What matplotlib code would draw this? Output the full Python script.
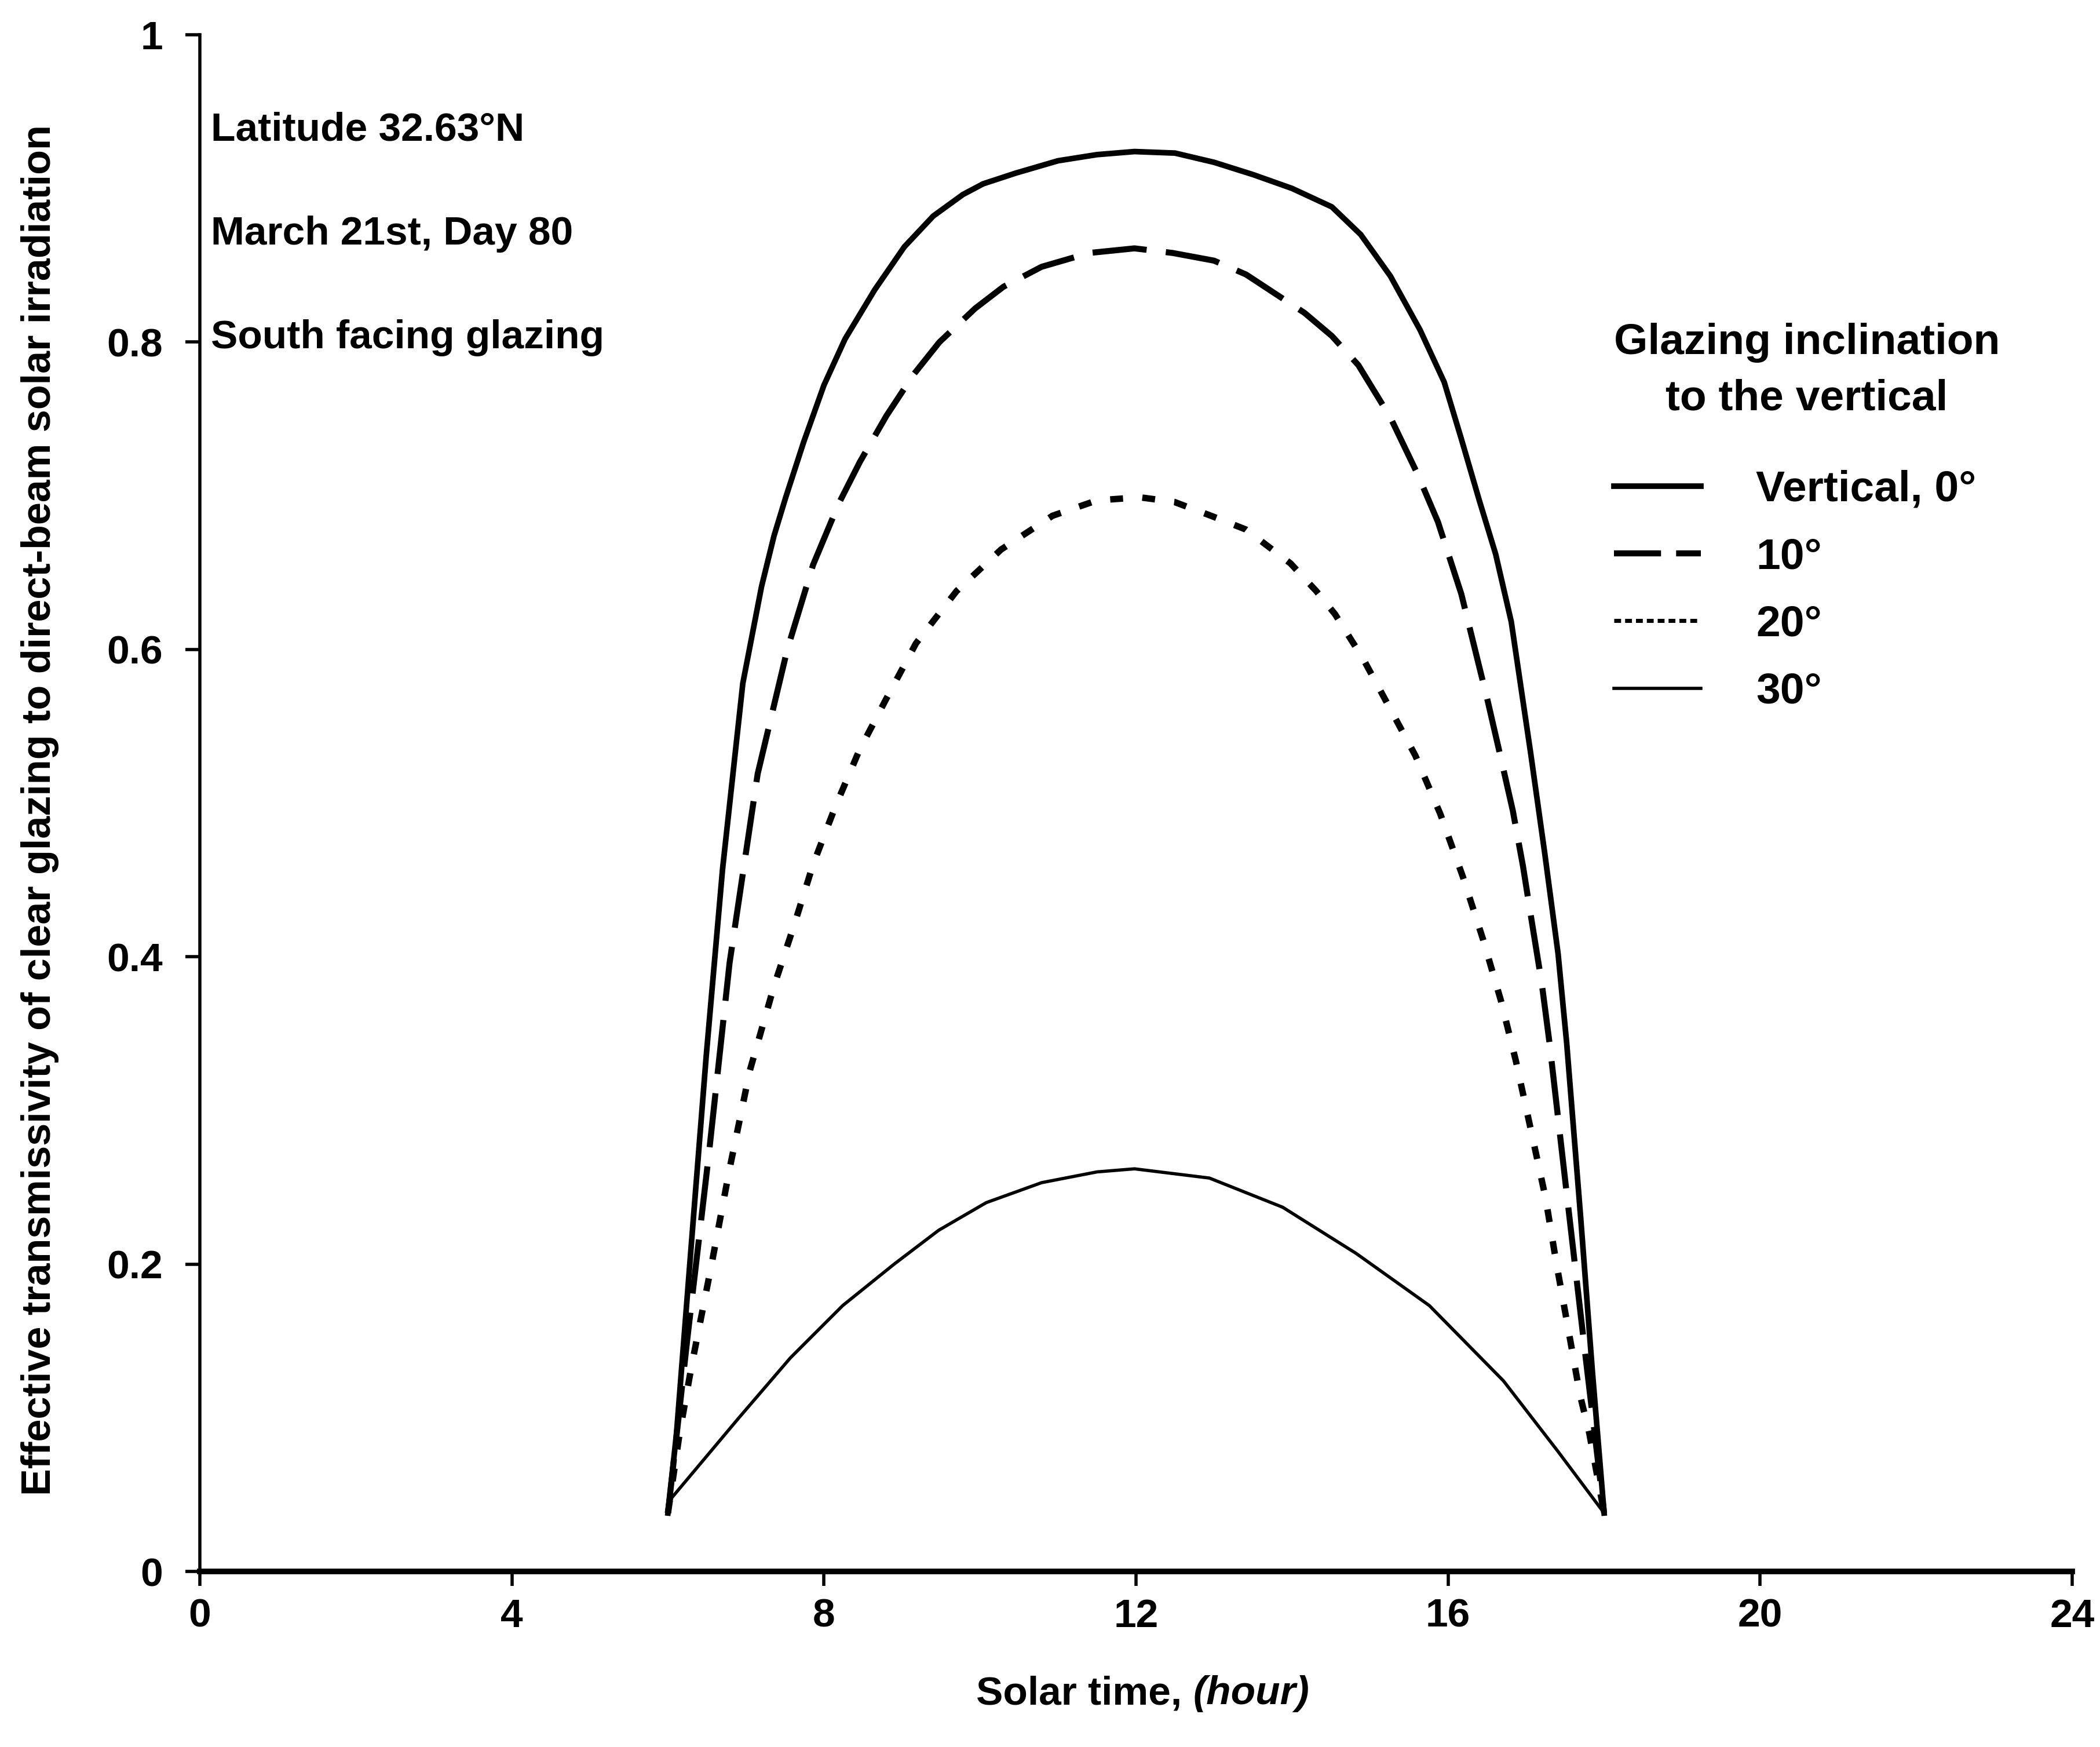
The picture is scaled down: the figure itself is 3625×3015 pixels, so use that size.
import matplotlib
matplotlib.use('Agg')
import matplotlib.pyplot as plt
from matplotlib.lines import Line2D

plt.rcParams['font.family'] = ['Liberation Sans', 'DejaVu Sans']

# solar time (hour) and effective transmissivity
hour_0 = [6.0, 6.11, 6.30, 6.49, 6.70, 6.96, 7.20, 7.36, 7.51, 7.74, 8.0, 8.27, 8.65, 9.03,
          9.40, 9.78, 10.04, 10.46, 11.0, 11.5, 11.98, 12.5, 13.0, 13.5, 14.0, 14.51, 14.88,
          15.26, 15.64, 15.95, 16.17, 16.40, 16.61, 16.81, 17.06, 17.24, 17.41, 17.52,
          17.70, 17.85, 18.0]
tau_0 = [0.038, 0.09, 0.213, 0.335, 0.457, 0.578, 0.641, 0.674, 0.699, 0.735, 0.772, 0.802,
         0.834, 0.862, 0.882, 0.896, 0.903, 0.91, 0.918, 0.922, 0.924, 0.923, 0.917, 0.909,
         0.90, 0.888, 0.870, 0.843, 0.808, 0.774, 0.737, 0.697, 0.662, 0.618, 0.532, 0.467,
         0.402, 0.344, 0.23, 0.13, 0.038]

hour_10 = [6.0, 6.25, 6.53, 6.79, 7.15, 7.53, 7.86, 8.19, 8.46, 8.80, 9.15, 9.48, 9.94, 10.3,
           10.79, 11.4, 11.98, 12.47, 13.0, 13.41, 14.16, 14.51, 14.85, 15.26, 15.61, 15.87,
           16.17, 16.34, 16.51, 16.66, 16.83, 16.96, 17.06, 17.20, 17.30, 17.50, 17.75, 18.0]
tau_10 = [0.038, 0.152, 0.274, 0.396, 0.519, 0.60, 0.655, 0.695, 0.722, 0.752, 0.779, 0.800,
          0.822, 0.836, 0.849, 0.858, 0.861, 0.858, 0.853, 0.844, 0.819, 0.804, 0.785, 0.751,
          0.714, 0.683, 0.636, 0.601, 0.566, 0.533, 0.495, 0.459, 0.427, 0.383, 0.344, 0.255,
          0.145, 0.038]

hour_20 = [6.0, 6.15, 6.30, 6.56, 6.79, 7.05, 7.36, 7.62, 7.86, 8.14, 8.45, 8.80, 9.18, 9.70,
           10.27, 10.93, 11.5, 12.05, 12.49, 12.96, 13.41, 13.98, 14.31, 14.55, 14.91, 15.23,
           15.58, 15.90, 16.19, 16.45, 16.68, 16.87, 17.08, 17.25, 17.39, 17.55, 17.69, 17.81,
           18.0]
tau_20 = [0.038, 0.09, 0.133, 0.20, 0.262, 0.326, 0.381, 0.421, 0.46, 0.497, 0.534, 0.568,
          0.604, 0.638, 0.665, 0.687, 0.697, 0.699, 0.696, 0.687, 0.678, 0.656, 0.638, 0.623,
          0.594, 0.564, 0.531, 0.493, 0.452, 0.411, 0.371, 0.332, 0.283, 0.243, 0.20, 0.155,
          0.115, 0.09, 0.038]

hour_30 = [6.0, 6.05, 6.91, 7.57, 8.24, 8.90, 9.47, 10.08, 10.79, 11.5, 11.98, 12.94, 13.88,
           14.82, 15.76, 16.71, 17.41, 18.0]
tau_30 = [0.038, 0.048, 0.10, 0.139, 0.173, 0.20, 0.222, 0.24, 0.253, 0.26, 0.262, 0.256,
          0.237, 0.207, 0.173, 0.124, 0.078, 0.038]

labels = ['Vertical, 0\u00b0', '10\u00b0', '20\u00b0', '30\u00b0']
x_ticks = [0, 4, 8, 12, 16, 20, 24]
y_ticks = [0, 0.2, 0.4, 0.6, 0.8, 1.0]
y_ticklabels = ['0', '0.2', '0.4', '0.6', '0.8', '1']
notes = ['Latitude 32.63\u00b0N', 'March 21st, Day 80', 'South facing glazing']
note_y = [0.931, 0.8635, 0.796]

W, H = 3625, 3015
fig = plt.figure(figsize=(W / 100, H / 100), dpi=100)
ax = fig.add_axes([345 / W, 1 - 2712 / H, (3577 - 345) / W, (2712 - 60) / H])

ax.plot(hour_0, tau_0, color='black', lw=7, solid_joinstyle='round')
ax.plot(hour_10, tau_10, color='black', lw=7.5, linestyle=(0, (9, 3.2)))
ax.plot(hour_20, tau_20, color='black', lw=8, linestyle=(0, (2.0, 3.0)))
ax.plot(hour_30, tau_30, color='black', lw=4, solid_joinstyle='round')

ax.set_xlim(0, 24)
ax.set_ylim(0, 1)
ax.spines['top'].set_visible(False)
ax.spines['right'].set_visible(False)
ax.spines['left'].set_linewidth(4)
ax.spines['bottom'].set_linewidth(7)
ax.set_xticks(x_ticks)
ax.set_yticks(y_ticks)
ax.set_yticklabels(y_ticklabels)
ax.tick_params(axis='x', direction='out', length=18, width=4, pad=15, labelsize=50)
ax.tick_params(axis='y', direction='out', length=18, width=4, pad=28, labelsize=50)
for lab in ax.get_xticklabels() + ax.get_yticklabels():
    lab.set_fontweight('bold')

for txt, yy in zip(notes, note_y):
    ax.text(0.14, yy, txt, fontsize=50, fontweight='bold', va='baseline', ha='left')

# legend
handles = [
    Line2D([], [], color='black', lw=7),
    Line2D([], [], color='black', lw=7.5, linestyle=(0, (7.8, 2.5))),
    Line2D([], [], color='black', lw=5, linestyle=(0, (1.7, 1.0))),
    Line2D([], [], color='black', lw=4),
]
leg = ax.legend(handles, labels, loc='upper left', bbox_to_anchor=(2786 / W, 1 - 811 / H),
                bbox_transform=fig.transFigure, frameon=False, borderpad=0, borderaxespad=0,
                handlelength=2.0, handletextpad=1.27, labelspacing=0.63,
                prop={'size': 54, 'weight': 'bold'})

fig.text(3119 / W, 1 - 640 / H, 'Glazing inclination\nto the vertical', fontsize=54,
         fontweight='bold', ha='center', va='center', multialignment='center',
         linespacing=1.5)

# axis titles
fig.text(69 / W, 1 - 1398 / H,
         'Effective transmissivity of clear glazing to direct-beam solar irradiation',
         rotation=90, fontsize=50.5, fontweight='bold', ha='center', va='center')
t1 = fig.text(1685 / W, 1 - 2941 / H, 'Solar time, ', fontsize=50, fontweight='bold',
              ha='left', va='baseline')
ax.annotate('(hour)', xy=(1, 0), xycoords=t1, fontsize=50, fontweight='bold',
            fontstyle='italic', ha='left', va='bottom', annotation_clip=False)

fig.savefig('out.png', dpi=100)
